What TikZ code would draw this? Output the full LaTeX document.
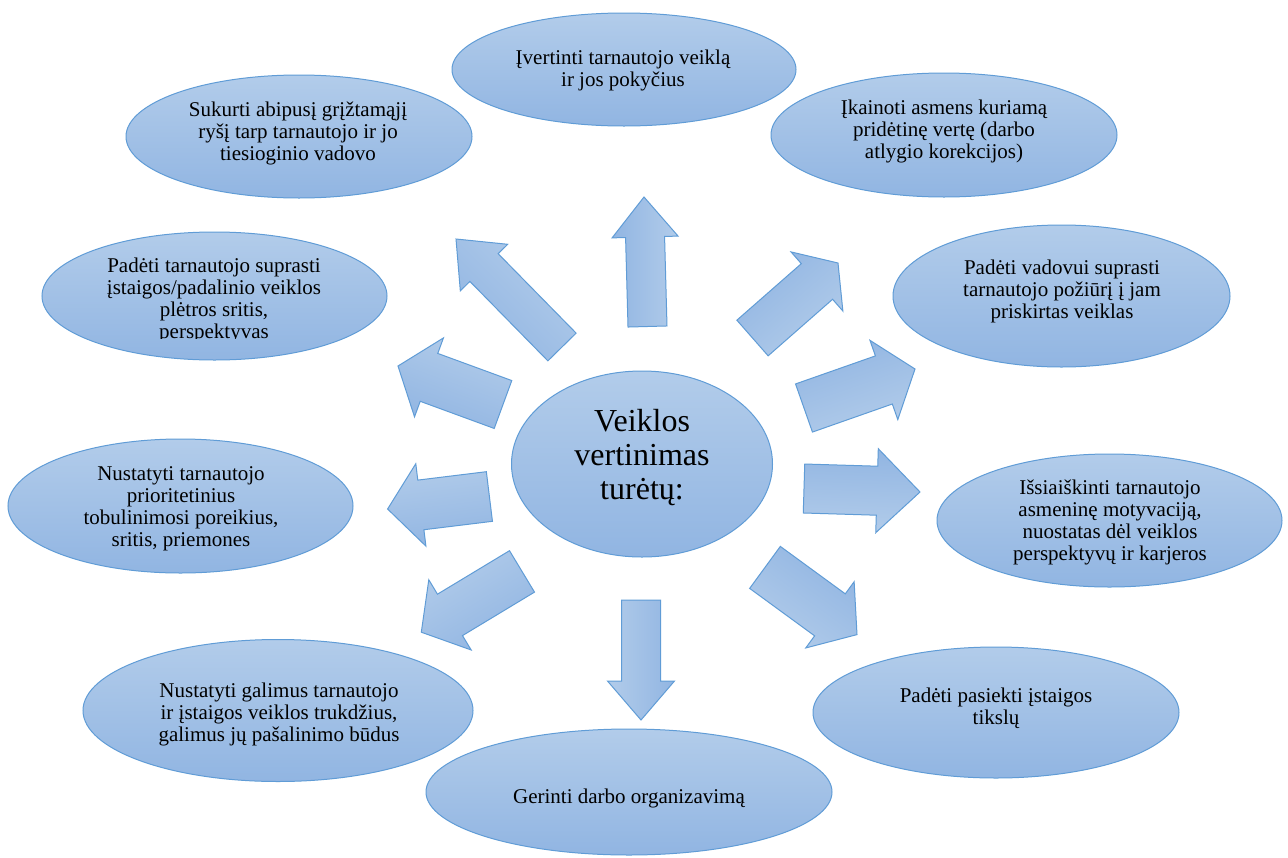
\documentclass[tikz,border=0pt]{standalone}
\usepackage{fontspec}
\setmainfont{Liberation Serif}
\newfontfamily\goalfont{Liberation Serif}
\usetikzlibrary{shapes.geometric,calc}

\definecolor{fillhi}{RGB}{178,204,234}
\definecolor{fillemp}{RGB}{145,181,226}
\definecolor{edge}{RGB}{96,156,214}

\tikzset{
  goal/.style={ellipse, draw=edge, line width=1pt, top color=fillhi,
    bottom color=fillemp, inner sep=0pt, outer sep=0pt},
  goaltext/.style={align=center, inner sep=0pt,
    font=\goalfont\fontsize{21}{22}\selectfont},
  coretext/.style={align=center, inner sep=0pt,
    font=\goalfont\fontsize{32}{34}\selectfont},
  arrowbody/.style={draw=edge, line width=1pt, line join=miter,
    top color=fillhi, bottom color=fillemp},
}

% Block arrow: #1 name, #2 tail midpoint, #3 tip, #4 half shaft width,
% #5 half head width, #6 head length, #7 shading angle
\newcommand{\blockarrow}[7]{%
  \coordinate (#1-t) at (#2);
  \coordinate (#1-h) at (#3);
  \coordinate (#1-b) at ($(#1-h)!#6!(#1-t)$);
  \path[arrowbody, shading angle=#7]
    ($(#1-t)!#4!90:(#1-h)$) -- ($(#1-b)!#4!-90:(#1-t)$)
    -- ($(#1-b)!#5!-90:(#1-t)$) -- (#1-h)
    -- ($(#1-b)!#5!90:(#1-t)$) -- ($(#1-b)!#4!90:(#1-t)$)
    -- ($(#1-t)!#4!-90:(#1-h)$) -- cycle;
}

\begin{document}
\begin{tikzpicture}[x=1pt,y=-1pt]
\useasboundingbox (0,0) rectangle (1288,857);
\fill[white] (0,0) rectangle (1288,857);

% outer goals
\node[goal, minimum width=344pt, minimum height=113pt] (e1) at (624,69.5) {};
\node[goal, minimum width=346pt, minimum height=123pt] (e2) at (299,136.5) {};
\node[goal, minimum width=346pt, minimum height=124pt] (e3) at (944,135) {};
\node[goal, minimum width=345pt, minimum height=128pt] (e4) at (214.5,296) {};
\node[goal, minimum width=337pt, minimum height=142pt] (e5) at (1061.5,296) {};
\node[goal, minimum width=345pt, minimum height=134pt] (e6) at (180.5,506) {};
\node[goal, minimum width=345pt, minimum height=133pt] (e7) at (1109.5,520.5) {};
\node[goal, minimum width=390pt, minimum height=142pt] (e8) at (278,710.5) {};
\node[goal, minimum width=366pt, minimum height=131pt] (e9) at (996,712.5) {};
\node[goal, minimum width=406pt, minimum height=126pt] (e10) at (629,792) {};

% centre
\node[goal, minimum width=261pt, minimum height=186pt] (core) at (642,464) {};

% arrows radiating from the centre
\blockarrow{aN}{647.5,326.5}{644,197}{19.5pt}{33pt}{40pt}{-90}
\blockarrow{aNW}{562,347}{456,239}{19.8pt}{33.2pt}{40pt}{-45}
\blockarrow{aNE}{752.5,338}{838,263}{23.7pt}{39.3pt}{28pt}{-139}
\blockarrow{aWNW}{503,404.5}{398,366}{25.5pt}{42pt}{33pt}{-20}
\blockarrow{aENE}{804,408}{915,369}{25.5pt}{42pt}{33pt}{-161}
\blockarrow{aW}{489.4,496.5}{387.6,509}{25pt}{41.5pt}{33.5pt}{7}
\blockarrow{aE}{804,488.5}{920,492}{24.5pt}{42pt}{43pt}{178}
\blockarrow{aSW}{522,571.4}{421.3,632.2}{24.2pt}{41pt}{33.5pt}{31}
\blockarrow{aS}{641,600}{641,720}{19.5pt}{33.5pt}{39pt}{90}
\blockarrow{aSE}{765,567.4}{857,634.6}{26pt}{41pt}{33.5pt}{144}

% texts
\node[coretext] (tcore) at (642,458) {Veiklos\\vertinimas\\turėtų:};
\node[goaltext] (t1) at (623,70) {Įvertinti tarnautojo veiklą\\ir jos pokyčius};
\node[goaltext] (t2) at (298,133) {Sukurti abipusį grįžtamąjį\\ryšį tarp tarnautojo ir jo\\tiesioginio vadovo};
\node[goaltext] (t3) at (944,131) {Įkainoti asmens kuriamą\\pridėtinę vertę (darbo\\atlygio korekcijos)};
\begin{scope}
  \clip (30,225) rectangle (400,338);
  \node[goaltext] (t4) at (214,300) {Padėti tarnautojo suprasti\\įstaigos/padalinio veiklos\\plėtros sritis,\\perspektyvas};
\end{scope}
\node[goaltext] (t5) at (1062,291) {Padėti vadovui suprasti\\tarnautojo požiūrį į jam\\priskirtas veiklas};
\node[goaltext] (t6) at (181,509) {Nustatyti tarnautojo\\prioritetinius\\tobulinimosi poreikius,\\sritis, priemones};
\node[goaltext] (t7) at (1110,522.5) {Išsiaiškinti tarnautojo\\asmeninę motyvaciją,\\nuostatas dėl veiklos\\perspektyvų ir karjeros};
\node[goaltext] (t8) at (279,714) {Nustatyti galimus tarnautojo\\ir įstaigos veiklos trukdžius,\\galimus jų pašalinimo būdus};
\node[goaltext] (t9) at (996,708.5) {Padėti pasiekti įstaigos\\tikslų};
\node[goaltext] (t10) at (629,798) {Gerinti darbo organizavimą};
\end{tikzpicture}
\end{document}
